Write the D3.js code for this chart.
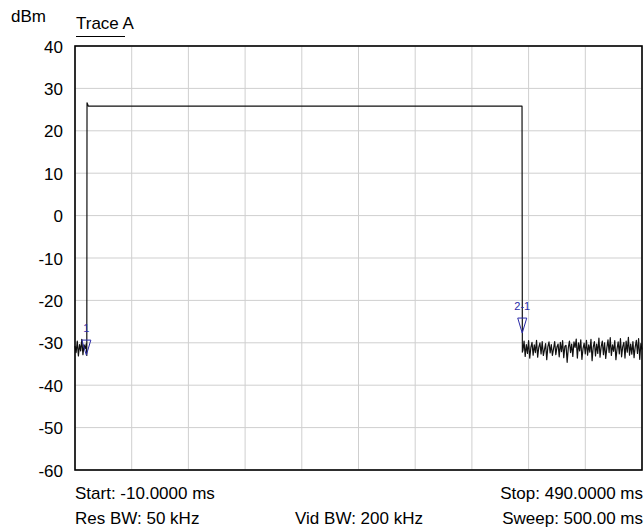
<!DOCTYPE html>
<html>
<head>
<meta charset="utf-8">
<script src="https://cdn.jsdelivr.net/npm/d3@7"></script>
<style>
  body { margin: 0; background: #fff; }
  text { font-family: "Liberation Sans", Arial, sans-serif; }
</style>
</head>
<body>
<div id="plot"></div>
<script>
// axis ticks
var levelTicks = [-60, -50, -40, -30, -20, -10, 0, 10, 20, 30, 40];
var timeTicks = [-10, 40, 90, 140, 190, 240, 290, 340, 390, 440, 490];

// noise floor before the burst, 1 ms per point from -10 ms
var headStart = -10;
var headLevels = [-30.8, -32.3, -29.6, -33.1, -30.4, -31.9, -29.2, -32.8, -30.5, -31.4, -30.2];

// burst edges and plateau (ms, dBm)
var burstTimes = [0.4, 0.6, 1.8, 384.2, 384.5];
var burstLevels = [-33.0, 26.6, 25.8, 25.8, -32.2];

// noise floor after the burst, 385 ms .. 490 ms
var tailStart = 385, tailStop = 490;
var tailLevels = [
  -31.8, -29.6, -33.2, -30.4, -32.5, -29.5, -33.6, -31.1, -29.9, -32.9,
  -30.5, -32.3, -29.4, -33.4, -31.0, -30.0, -32.6, -29.7, -33.0, -31.6,
  -30.2, -34.0, -30.9, -29.8, -32.4, -30.4, -33.0, -31.4, -29.7, -32.8,
  -31.0, -30.3, -33.3, -29.9, -32.1, -29.5, -33.5, -30.8, -30.6, -34.6,
  -31.2, -29.6, -32.3, -30.3, -33.2, -29.8, -31.1, -29.1, -33.6, -30.0,
  -31.9, -29.3, -33.9, -31.4, -30.1, -32.6, -29.4, -32.9, -30.5, -32.2,
  -29.2, -34.2, -31.0, -29.7, -33.1, -30.3, -32.5, -28.9, -33.4, -30.9,
  -29.6, -32.8, -30.0, -33.7, -31.2, -29.3, -32.3, -28.8, -33.0, -30.5,
  -32.0, -29.5, -34.0, -31.4, -29.8, -32.6, -29.0, -33.3, -30.9, -29.9,
  -33.6, -29.6, -32.2, -28.7, -32.9, -30.3, -32.7, -29.7, -33.5, -31.0,
  -29.4, -32.5, -29.0, -33.9, -30.2, -31.6
];

// markers
var markerLabels = ["1", "2-1"];
var markerTimes = [0.0, 384.4];
var markerLevels = [-32.9, -27.7];

// footer texts
var footerLeft = ["Start: -10.0000 ms", "Res BW: 50 kHz"];
var footerMid = ["", "Vid BW: 200 kHz"];
var footerRight = ["Stop: 490.0000 ms", "Sweep: 500.00 ms"];

var W = 644, H = 529;
var margin = {top: 46, right: 2, bottom: 59, left: 75},
    width = W - margin.left - margin.right,
    height = H - margin.top - margin.bottom;
var fontSize = 17;

var svg = d3.select("#plot")
    .append("svg")
    .attr("width", W)
    .attr("height", H);

var g = svg.append("g")
    .attr("transform", "translate(" + margin.left + "," + margin.top + ")");

var x = d3.scaleLinear().domain([-10, 490]).range([0, width]);
var y = d3.scaleLinear().domain([-60, 40]).range([height, 0]);

// build trace points
var trace = [];
headLevels.forEach(function(v, i) { trace.push({t: headStart + i, v: v}); });
burstTimes.forEach(function(t, i) { trace.push({t: t, v: burstLevels[i]}); });
var step = (tailStop - tailStart) / (tailLevels.length - 1);
tailLevels.forEach(function(v, i) { trace.push({t: tailStart + i * step, v: v}); });

// grid
g.append("g")
    .selectAll("line")
    .data(levelTicks)
    .enter()
    .append("line")
    .attr("x1", 0).attr("x2", width)
    .attr("y1", d => y(d)).attr("y2", d => y(d))
    .attr("stroke", "#cfcfcf")
    .attr("stroke-width", 1);

g.append("g")
    .selectAll("line")
    .data(timeTicks)
    .enter()
    .append("line")
    .attr("x1", d => x(d)).attr("x2", d => x(d))
    .attr("y1", 0).attr("y2", height)
    .attr("stroke", "#cfcfcf")
    .attr("stroke-width", 1);

// y axis labels (plain hyphen minus like the analyzer)
var yAxis = g.append("g")
    .call(d3.axisLeft(y)
        .tickValues(levelTicks)
        .tickFormat(d => String(d))
        .tickSize(0)
        .tickPadding(12));
yAxis.select(".domain").remove();
yAxis.selectAll("text")
    .attr("font-family", "'Liberation Sans', Arial, sans-serif")
    .attr("font-size", fontSize)
    .attr("fill", "#000")
    .attr("dy", "0.36em");

// trace
g.append("path")
    .datum(trace)
    .attr("fill", "none")
    .attr("stroke", "#111")
    .attr("stroke-width", 1.2)
    .attr("stroke-linejoin", "round")
    .attr("d", d3.line()
        .x(d => x(d.t))
        .y(d => y(d.v)));

// frame
g.append("rect")
    .attr("x", 0).attr("y", 0)
    .attr("width", width).attr("height", height)
    .attr("fill", "none")
    .attr("stroke", "#000")
    .attr("stroke-width", 1.6);

// markers
var markerColor = "#2a2aa8";
var mk = g.append("g")
    .selectAll("g")
    .data(markerLabels)
    .enter()
    .append("g")
    .attr("transform", (d, i) => "translate(" + x(markerTimes[i]) + "," + y(markerLevels[i]) + ")");

mk.append("path")
    .attr("d", "M0,0 L-4.5,-15 L4.5,-15 Z")
    .attr("fill", "none")
    .attr("stroke", markerColor)
    .attr("stroke-width", 1);

mk.append("text")
    .attr("x", 0)
    .attr("y", -23)
    .attr("text-anchor", "middle")
    .attr("font-size", 11)
    .attr("fill", markerColor)
    .text(d => d);

// header
svg.append("text")
    .attr("x", 11).attr("y", 22)
    .attr("font-size", fontSize)
    .text("dBm");

svg.append("text")
    .attr("x", 76).attr("y", 29)
    .attr("font-size", fontSize)
    .text("Trace A");

svg.append("line")
    .attr("x1", 76).attr("x2", 125)
    .attr("y1", 36.5).attr("y2", 36.5)
    .attr("stroke", "#000")
    .attr("stroke-width", 1);

// footer
var rows = [499, 524];
rows.forEach(function(yy, i) {
    svg.append("text").attr("x", 75).attr("y", yy)
        .attr("font-size", fontSize).text(footerLeft[i]);
    svg.append("text").attr("x", 359).attr("y", yy)
        .attr("font-size", fontSize).attr("text-anchor", "middle").text(footerMid[i]);
    svg.append("text").attr("x", 643).attr("y", yy)
        .attr("font-size", fontSize).attr("text-anchor", "end").text(footerRight[i]);
});
</script>
</body>
</html>
